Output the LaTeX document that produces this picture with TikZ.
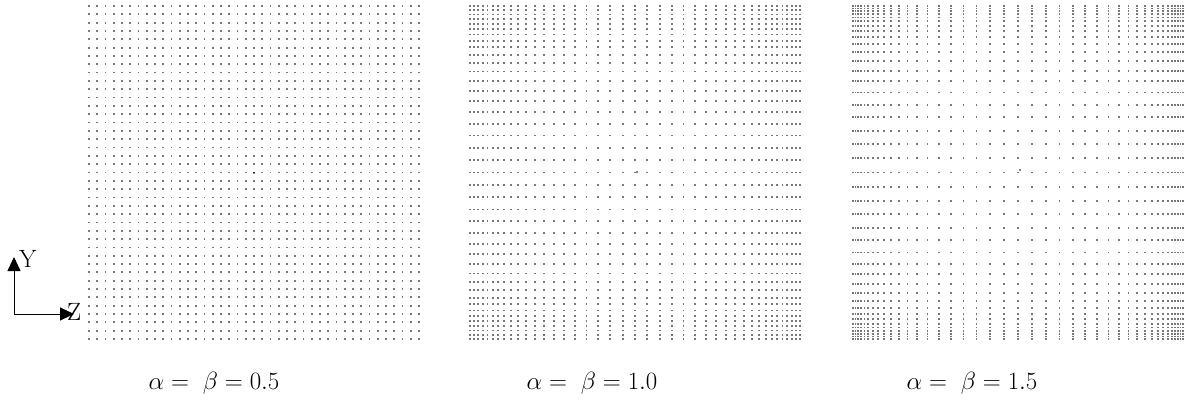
\documentclass[tikz,border=0pt]{standalone}
\usepackage{amsmath}
\usepackage{tikz}
\usetikzlibrary{arrows.meta, positioning}
\definecolor{dotgray}{RGB}{120,120,120}

\begin{document}
\begin{tikzpicture}[
   x=1pt, y=-1pt,
   declare function={str(\s,\c)=\s-\c*sin(360*\s)/(2*pi);},
   pt/.style={fill=dotgray},
   cpt/.style={fill=black},
   lab/.style={font=\fontsize{23}{27}\selectfont, inner sep=0pt},
   axlab/.style={font=\fontsize{25}{30}\selectfont, inner sep=0pt},
   arr/.style={-{Triangle[length=14pt, width=13pt]}, line width=0.9pt}]

  \useasboundingbox (0,0) rectangle (1198,414);

  % the three stretched grids
  \foreach \gx/\c/\val/\lx in {89/0/0.5/214, 470/0.5/1.0/592, 853/0.7/1.5/972}{
    \foreach \i in {0,...,40}{
      \foreach \j in {0,...,40}{
        \fill[pt] ({\gx+330*str(\i/40,\c)-0.9}, {6+333*str(\j/40,\c)-0.9})
          rectangle ++(1.8,1.8);
      }
    }
    \node[lab] (lab\val) at (\lx,383) {$\alpha =\ \beta = \val$};
  }

  % centre marks
  \fill[cpt] (254,173) circle[radius=0.9];
  \fill[cpt] (637,172) circle[radius=0.9];
  \fill[cpt] (1020,170) circle[radius=0.9];

  % axes
  \coordinate (o) at (14,314);
  \coordinate (ytip) at (14,257);
  \coordinate (ztip) at (74,314);
  \draw[arr] (o) -- (ytip);
  \draw[arr] (o) -- (ztip);
  \node[axlab, anchor=base west] (y) at (19,267) {Y};
  \node[axlab, anchor=base west] (z) at (67,320) {Z};
\end{tikzpicture}
\end{document}
